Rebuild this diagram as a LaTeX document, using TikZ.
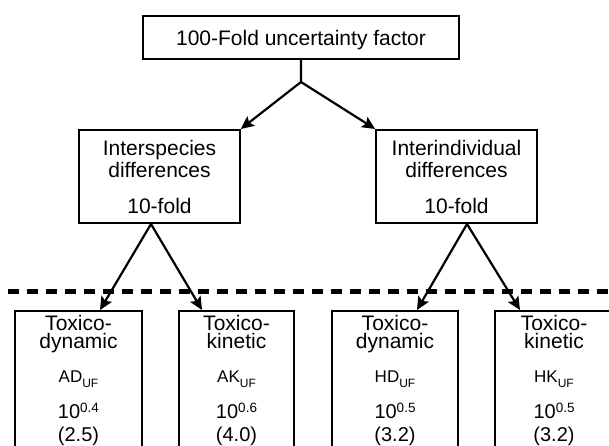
\documentclass[tikz,border=0pt]{standalone}
\usepackage{fontspec}
\setmainfont{Liberation Sans}
\usetikzlibrary{arrows.meta}
\tikzset{
	factorbox/.style={rectangle, draw=black, line width=1.6pt, minimum width=316pt, minimum height=43pt, inner sep=0pt, text depth=0pt, font=\fontsize{21}{22}\selectfont},
	groupbox/.style={rectangle, draw=black, line width=1.6pt, anchor=north, minimum width=161pt, inner xsep=0pt, inner ysep=10pt, align=center, font=\fontsize{21}{22}\selectfont},
	partbox/.style={rectangle, draw=black, line width=1.6pt, anchor=north, inner xsep=0pt, inner ysep=4.5pt, align=center, font=\fontsize{21}{18}\selectfont},
	splitarrow/.style={->, >={Stealth[length=13pt, width=12pt, inset=2.5pt]}, line width=2.2pt},
	mydashed/.style={line width=5pt, dash pattern=on 11.3pt off 7.7pt}
}
% index and power as set in the lower boxes
\newcommand{\ufidx}[1]{{\fontsize{17}{18}\selectfont #1\raisebox{-4.5pt}{\fontsize{12}{12}\selectfont UF}}}
\newcommand{\tenpow}[1]{{\fontsize{20}{18}\selectfont 10\raisebox{6pt}{\fontsize{13.5}{13.5}\selectfont #1}}}
\newcommand{\ufval}[1]{{\fontsize{20}{18}\selectfont (#1)}}

\begin{document}
\begin{tikzpicture}[x=1pt, y=-1pt]
	\useasboundingbox (0,0) rectangle (609,446);
	\clip (0,0) rectangle (609,446);

	\node[factorbox] at (301,37.5) (top) {100-Fold uncertainty factor};
	\coordinate (fork) at (301,82);

	\node[groupbox] at (159.5,129) (inter) {Interspecies\\differences\\[14pt]10-fold};
	\node[groupbox] at (456.5,129) (intra) {Interindividual\\differences\\[14pt]10-fold};

	% separator between the two levels
	\coordinate (sepL) at (8,291);
	\coordinate (sepR) at (620,291);
	\draw[mydashed] (sepL) -- (sepR);

	\node[partbox, minimum width=127pt] at (78.5,310) (ad) {Toxico-\\dynamic\\[16pt]\ufidx{AD}\\[15pt]\tenpow{0.4}\\[5pt]\ufval{2.5}};
	\node[partbox, minimum width=115pt] at (236.5,310) (ak) {Toxico-\\kinetic\\[16pt]\ufidx{AK}\\[15pt]\tenpow{0.6}\\[5pt]\ufval{4.0}};
	\node[partbox, minimum width=126pt] at (395,310) (hd) {Toxico-\\dynamic\\[16pt]\ufidx{HD}\\[15pt]\tenpow{0.5}\\[5pt]\ufval{3.2}};
	\node[partbox, minimum width=118pt] at (554,310) (hk) {Toxico-\\kinetic\\[16pt]\ufidx{HK}\\[15pt]\tenpow{0.5}\\[5pt]\ufval{3.2}};

	\draw[splitarrow] (top.south) -- (fork) -- (inter.north east);
	\draw[splitarrow] (fork) -- (intra.north west);

	\draw[splitarrow] ([xshift=-8.5pt]inter.south) -- ([xshift=21.5pt]ad.north);
	\draw[splitarrow] ([xshift=-8.5pt]inter.south) -- ([xshift=-34.5pt]ak.north);
	\draw[splitarrow] ([xshift=10.5pt]intra.south) -- ([xshift=22pt]hd.north);
	\draw[splitarrow] ([xshift=10.5pt]intra.south) -- ([xshift=-34pt]hk.north);
\end{tikzpicture}
\end{document}
